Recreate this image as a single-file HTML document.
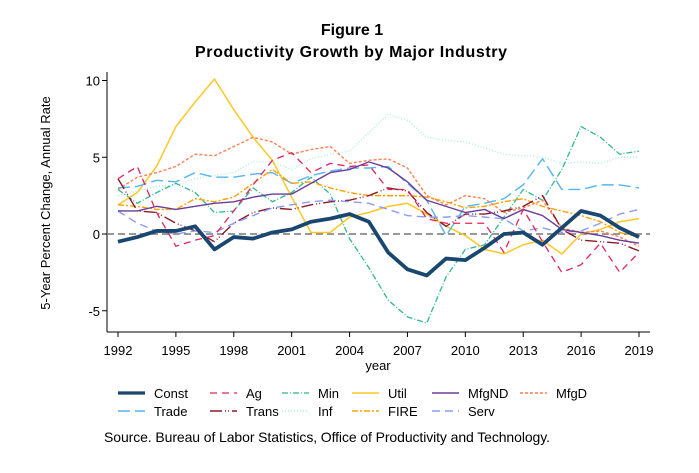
<!DOCTYPE html>
<html><head><meta charset="utf-8"><style>
body{margin:0;background:#fff;width:699px;height:468px;overflow:hidden;font-family:"Liberation Sans",sans-serif}
</style></head><body>
<svg id="chart" width="699" height="468" viewBox="0 0 699 468" xmlns="http://www.w3.org/2000/svg">
<text x="352" y="35" text-anchor="middle" font-size="16" font-weight="bold">Figure 1</text>
<text x="351" y="57" text-anchor="middle" font-size="16" font-weight="bold" textLength="312">Productivity Growth by Major Industry</text>
<g id="axes"></g>
<g id="series"></g>
<g id="legend"></g>
<text x="104" y="442" font-size="14" textLength="446">Source.  Bureau of Labor Statistics, Office of Productivity and Technology.</text>
</svg>
<script>
const years=[1992,1993,1994,1995,1996,1997,1998,1999,2000,2001,2002,2003,2004,2005,2006,2007,2008,2009,2010,2011,2012,2013,2014,2015,2016,2017,2018,2019];
const xTicks=[1992,1995,1998,2001,2004,2007,2010,2013,2016,2019];
const yTicks=[-5,0,5,10];
const constV=[-0.5,-0.2,0.2,0.2,0.5,-1.0,-0.2,-0.3,0.1,0.3,0.8,1.0,1.3,0.8,-1.2,-2.3,-2.7,-1.6,-1.7,-0.9,0.0,0.1,-0.7,0.4,1.5,1.2,0.4,-0.2];
const agV=[3.6,4.4,1.4,-0.8,-0.4,-0.1,1.5,3.2,4.8,5.3,4.0,4.6,4.4,4.5,2.9,2.9,1.0,0.7,0.7,0.7,-1.2,1.6,-0.5,-2.5,-2.0,-0.6,-2.5,-1.2];
const minV=[2.9,2.0,2.7,3.3,2.7,1.4,1.5,3.0,2.1,2.7,3.7,2.6,-0.3,-2.2,-4.3,-5.4,-5.8,-2.8,-1.0,-0.7,1.1,2.9,2.2,4.2,7.0,6.3,5.2,5.4];
const utilV=[1.9,2.7,4.4,7.0,8.6,10.1,8.1,6.3,4.8,2.4,0.1,0.1,1.1,1.4,1.8,2.0,1.3,0.5,-0.1,-1.0,-1.3,-0.7,-0.4,-1.3,0.0,0.3,0.8,1.0];
const mfgndV=[1.5,1.5,1.8,1.6,1.8,2.0,2.1,2.4,2.6,2.6,3.3,4.0,4.2,4.7,4.3,3.4,2.2,1.8,1.4,1.6,1.0,1.6,1.2,0.3,0.1,-0.1,-0.4,-0.6];
const mfgdV=[2.9,3.7,4.0,4.4,5.2,5.1,5.7,6.3,6.0,5.2,5.5,5.7,4.6,4.8,4.9,4.3,2.5,1.9,2.5,2.3,1.4,1.7,2.2,0.4,0.1,0.2,-0.2,-0.8];
const tradeV=[3.0,3.1,3.5,3.4,4.0,3.7,3.7,3.9,4.0,3.3,3.8,4.1,4.3,4.3,4.4,3.3,2.2,-0.1,1.8,2.0,2.3,3.2,4.9,2.9,2.9,3.2,3.2,3.0];
const transV=[3.6,1.5,1.4,0.7,0.2,-0.5,0.7,1.4,1.7,1.6,1.9,2.1,2.2,2.5,3.0,2.8,1.4,0.5,1.3,1.3,1.5,1.8,2.5,0.3,-0.4,-0.5,-0.6,-1.1];
const infV=[2.5,2.8,3.1,3.2,3.6,3.8,4.0,4.7,4.7,4.2,4.9,5.2,5.4,6.6,7.8,7.4,6.3,6.1,6.0,5.6,5.2,5.1,5.0,4.6,4.7,4.6,5.0,5.0];
const fireV=[1.9,1.8,1.6,1.6,2.3,2.1,2.4,3.3,4.2,3.3,3.4,3.0,2.7,2.5,2.5,2.5,2.4,2.1,1.7,1.8,2.1,2.3,1.8,1.5,1.2,0.8,0.1,-0.2];
const servV=[1.5,0.7,0.2,0.0,0.2,0.1,0.7,1.2,1.7,1.9,2.1,2.2,2.1,2.0,1.6,1.2,1.1,1.1,1.2,1.1,1.0,0.2,0.4,0.1,0.2,0.7,1.3,1.6];
const seriesNames=["Const","Ag","Min","Util","MfgND","MfgD","Trade","Trans","Inf","FIRE","Serv"];

const NS="http://www.w3.org/2000/svg";
const x=v=>118+(v-1992)*(639-118)/27;
const y=v=>234-v*15.35;
function mk(tag,parent,attrs){const e=document.createElementNS(NS,tag);for(const k in attrs)e.setAttribute(k,attrs[k]);parent.appendChild(e);return e;}
const axes=document.getElementById('axes');
let a=mk('line',axes,{x1:107,x2:107,y1:72,y2:332,stroke:'#000','stroke-width':1});


a=mk('line',axes,{x1:107,x2:650,y1:332,y2:332,stroke:'#000','stroke-width':1});


yTicks.forEach(t=>{
  const l=mk('line',axes,{x1:102,x2:107,y1:y(t),y2:y(t),stroke:'#000'});
  
  
  const tx=mk('text',axes,{x:100,y:y(t)+5,'text-anchor':'end','font-size':13});
  tx.textContent=t;
  
  
});
xTicks.forEach(t=>{
  const l=mk('line',axes,{x1:x(t),x2:x(t),y1:332,y2:337,stroke:'#000'});
  
  
  const tx=mk('text',axes,{x:x(t),y:355,'text-anchor':'middle','font-size':13});
  tx.textContent=t;
  
  
});
let tt=mk('text',axes,{x:378,y:370,'text-anchor':'middle','font-size':13});
tt.textContent='year';


tt=mk('text',axes,{x:0,y:0,'text-anchor':'middle','font-size':13,transform:'translate(50,203) rotate(-90)'});
tt.textContent='5-Year Percent Change, Annual Rate';


const zl=mk('line',axes,{x1:107,x2:650,y1:y(0),y2:y(0),stroke:'#777','stroke-width':1.5,'stroke-dasharray':'7,4'});



const styles=[
 {d:constV,c:'#1a476f',w:3.8,da:''},
 {d:agV,c:'#e0245e',w:1.3,da:'7,5'},
 {d:minV,c:'#2fb88f',w:1.3,da:'6,2,1,2'},
 {d:utilV,c:'#ffc726',w:1.5,da:''},
 {d:mfgndV,c:'#6a3d9a',w:1.4,da:''},
 {d:mfgdV,c:'#ff7f50',w:1.4,da:'3,2'},
 {d:tradeV,c:'#55b4f5',w:1.4,da:'12,5'},
 {d:transV,c:'#8b1a2a',w:1.4,da:'12,3,1,2,1,3'},
 {d:infV,c:'#a8f0d8',w:1.4,da:'1,2'},
 {d:fireV,c:'#ffa000',w:1.4,da:'6,2,2,2'},
 {d:servV,c:'#8c9cf5',w:1.4,da:'8,5'}
];
const sg=document.getElementById('series');
const order=[8,2,3,5,6,9,7,10,4,1,0];
order.forEach(i=>{
  const s=styles[i];
  const p=mk('polyline',sg,{points:s.d.map((v,k)=>x(years[k])+','+y(v)).join(' '),fill:'none',stroke:s.c,'stroke-width':s.w,'stroke-dasharray':s.da,'stroke-linejoin':'round'});
  
  
});
const lg=document.getElementById('legend');
const colX=[118,210,282,352,432,520];
seriesNames.forEach((n,i)=>{
  const r=Math.floor(i/6),c=i%6,s=styles[i];
  const ly=393+r*18;
  const g=mk('g',lg,{});
  
  
  mk('line',g,{x1:colX[c],x2:colX[c]+27,y1:ly,y2:ly,stroke:s.c,'stroke-width':Math.min(s.w,3.2),'stroke-dasharray':s.da});
  const t=mk('text',g,{x:colX[c]+36,y:ly+5,'font-size':13});
  t.textContent=n;
});
</script>
</body></html>
